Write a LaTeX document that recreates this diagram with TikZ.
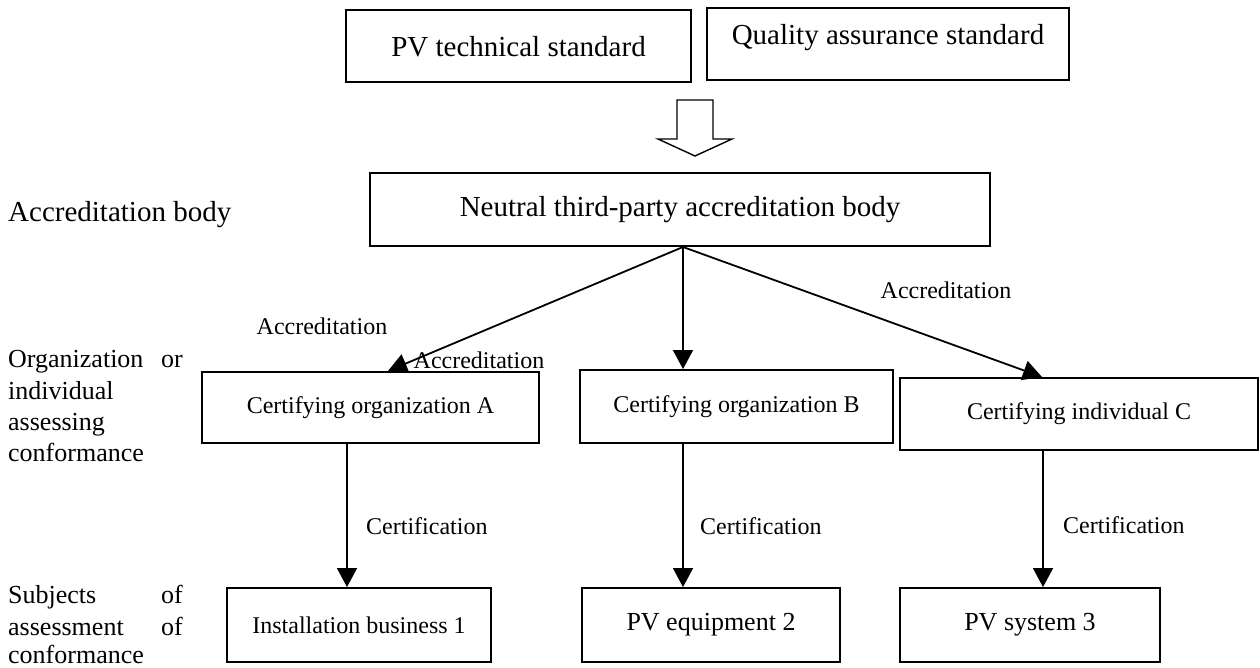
\documentclass[tikz,border=0pt]{standalone}
\usepackage{fontspec}
\setmainfont{Liberation Serif}
\usetikzlibrary{arrows.meta}
\begin{document}
\begin{tikzpicture}[x=1pt,y=-1pt,
  box/.style={draw,line width=1.9pt,inner sep=0pt,align=center},
  conn/.style={line width=1.8pt,-{Triangle[length=19pt,width=20pt]}},
  lbl/.style={inner sep=0pt,anchor=base west},
  lble/.style={inner sep=0pt,anchor=base east},
  fa/.style={font=\fontsize{24}{28}\selectfont},
  fb/.style={font=\fontsize{26}{30}\selectfont},
  fc/.style={font=\fontsize{29}{34}\selectfont}]
\useasboundingbox (0,0) rectangle (1260,668);
% top boxes
\node[box,minimum width=345pt,minimum height=72pt] (pv) at (518.5,46) {};
\node[fc,inner sep=0pt] (pvt) at (518.5,47) {PV technical standard};
\node[box,minimum width=362pt,minimum height=72pt] (qa) at (888,44) {};
\node[fc,inner sep=0pt] (qat) at (888,38) {Quality assurance standard};
% hollow arrow
\draw[line width=1.4pt] (677,100) -- (713,100) -- (713,139) -- (732,139) -- (695,156) -- (658,139) -- (677,139) -- cycle;
% accreditation body
\node[box,fc,minimum width=620pt,minimum height=73pt] (nb) at (680,209.5) {Neutral third-party accreditation body};
% certifying
\node[box,fa,minimum width=337pt,minimum height=71pt] (ca) at (370.5,407.5) {Certifying organization A};
\node[box,fa,minimum width=313pt,minimum height=73pt] (cb) at (736.5,406.5) {Certifying organization B};
\node[box,fa,minimum width=358pt,minimum height=72pt] (cc) at (1079,414) {Certifying individual C};
% subjects
\node[box,fa,minimum width=264pt,minimum height=74pt] (s1) at (359,625) {Installation business 1};
\node[box,fb,minimum width=258pt,minimum height=74pt] (s2) at (711,625) {PV equipment 2};
\node[box,fb,minimum width=260pt,minimum height=74pt] (s3) at (1030,625) {PV system 3};
% accreditation connectors
\coordinate (apex) at (683,247);
\coordinate (tipA) at (388,371);
\coordinate (tipC) at (1042,377);
\coordinate (xb) at (683,0);
\draw[conn] (apex) -- (tipA);
\draw[conn] (apex) -- (cb.north -| xb);
\draw[conn] (apex) -- (tipC);
% certification connectors
\coordinate (xa) at (347,0);
\coordinate (xc) at (1043,0);
\draw[conn] (ca.south -| xa) -- (s1.north -| xa);
\draw[conn] (cb.south -| xb) -- (s2.north -| xb);
\draw[conn] (cc.south -| xc) -- (s3.north -| xc);
% connector labels
\node[fa,inner sep=0pt] (la1) at (322,326) {Accreditation};
\node[fa,inner sep=0pt] (la2) at (479,360) {Accreditation};
\node[fa,inner sep=0pt] (la3) at (946,290) {Accreditation};
\node[fa,inner sep=0pt,anchor=west] (lc1) at (366,526) {Certification};
\node[fa,inner sep=0pt,anchor=west] (lc2) at (700,526) {Certification};
\node[fa,inner sep=0pt,anchor=west] (lc3) at (1063,525) {Certification};
% side labels
\node[lbl,fc] (t1) at (8,222) {Accreditation body};
\node[lbl,fb] (t2a) at (8,367) {Organization};
\node[lble,fb] (t2b) at (183,367) {or};
\node[lbl,fb] (t2c) at (8,399) {individual};
\node[lbl,fb] (t2d) at (8,430) {assessing};
\node[lbl,fb] (t2e) at (8,461) {conformance};
\node[lbl,fb] (t3a) at (8,603) {Subjects};
\node[lble,fb] (t3b) at (183,603) {of};
\node[lbl,fb] (t3c) at (8,635) {assessment};
\node[lble,fb] (t3d) at (183,635) {of};
\node[lbl,fb] (t3e) at (8,663) {conformance};
\end{tikzpicture}
\end{document}
